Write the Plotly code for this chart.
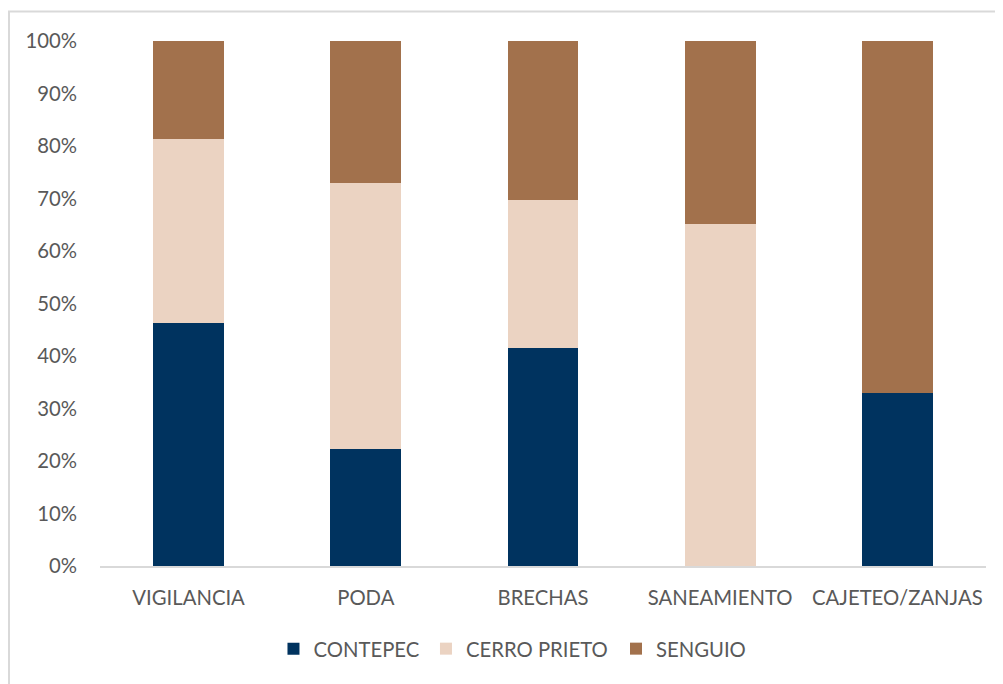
import plotly.graph_objects as go

categories = ["VIGILANCIA", "PODA", "BRECHAS", "SANEAMIENTO", "CAJETEO/ZANJAS"]
contepec = [46.3, 22.3, 41.5, 0.0, 33.0]
cerro_prieto = [35.0, 50.7, 28.2, 65.1, 0.0]
senguio = [18.7, 27.0, 30.3, 34.9, 67.0]
tick_vals = [0, 10, 20, 30, 40, 50, 60, 70, 80, 90, 100]
tick_text = ["0%", "10%", "20%", "30%", "40%", "50%", "60%", "70%", "80%", "90%", "100%"]

font_family = "Lato, Open Sans, sans-serif"
text_color = "#595959"
fs = 20.3

fig = go.Figure()
fig.add_trace(go.Bar(name="CONTEPEC", x=categories, y=contepec, legend="legend", showlegend=True,
                     marker=dict(color="#00335F", line=dict(width=0))))
fig.add_trace(go.Bar(name="CERRO PRIETO", x=categories, y=cerro_prieto, legend="legend2", showlegend=True,
                     marker=dict(color="#EBD3C2", line=dict(width=0))))
fig.add_trace(go.Bar(name="SENGUIO", x=categories, y=senguio, legend="legend3", showlegend=True,
                     marker=dict(color="#A2714C", line=dict(width=0))))

leg_common = dict(orientation="h", xanchor="left", y=-0.158, yanchor="middle",
                  font=dict(size=fs, color=text_color), itemwidth=30, bgcolor="rgba(0,0,0,0)")

fig.update_layout(
    showlegend=True,
    barmode="stack",
    barnorm="percent",
    bargap=0.6,
    width=1003,
    height=684,
    margin=dict(l=92, r=25, t=33, b=126),
    paper_bgcolor="white",
    plot_bgcolor="white",
    font=dict(family=font_family, size=fs, color=text_color),
    legend=dict(x=0.1958, **leg_common),
    legend2=dict(x=0.3679, **leg_common),
    legend3=dict(x=0.5824, **leg_common),
    xaxis=dict(showline=True, linecolor="#D9D9D9", linewidth=2, ticks="", showgrid=False,
               ticklabelstandoff=13, tickfont=dict(size=fs, color=text_color)),
    yaxis=dict(range=[0, 100], tickvals=tick_vals, ticktext=tick_text, showgrid=False,
               zeroline=False, showline=False, ticks="", ticklabelstandoff=22,
               tickfont=dict(size=fs, color=text_color)),
    shapes=[dict(type="rect", xref="paper", yref="paper", x0=-0.1027, x1=1.2, y0=-0.6, y1=1.0562,
                 line=dict(color="#D9D9D9", width=2), fillcolor="rgba(0,0,0,0)", layer="below")],
)

fig.write_html("out.html")
